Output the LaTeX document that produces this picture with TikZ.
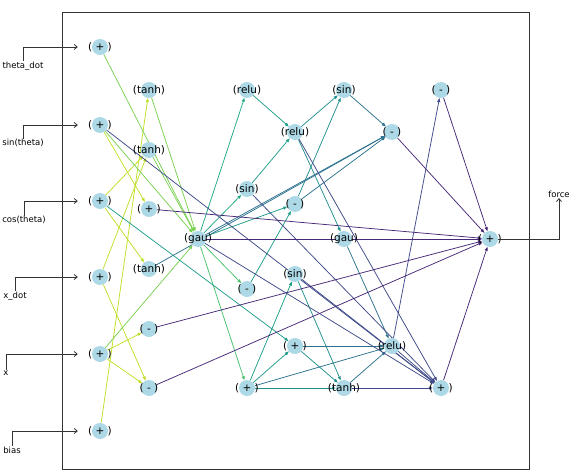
\documentclass[tikz,border=0pt]{standalone}
\usepackage{fontspec}
\setmainfont{DejaVu Sans}
\usetikzlibrary{arrows.meta,backgrounds}

\definecolor{opblue}{HTML}{ADD8E6}
\definecolor{toA}{HTML}{BDDF26}
\definecolor{toG}{HTML}{7AD151}
\definecolor{toB}{HTML}{22A884}
\definecolor{toBb}{HTML}{4AC16D}
\definecolor{toC}{HTML}{1F9E89}
\definecolor{toD}{HTML}{21908C}
\definecolor{toE}{HTML}{2C728E}
\definecolor{toF}{HTML}{3E4A89}
\definecolor{toO}{HTML}{482878}

\begin{document}
\begin{tikzpicture}[x=1pt,y=-1pt,
		op/.style={circle, fill=opblue, minimum size=16pt, inner sep=0pt,
			label={[font=\fontsize{10.5}{12}\selectfont, inner sep=0pt]center:#1}},
		edge/.style={line width=0.75pt, -{Triangle[length=4pt,width=3pt]}},
		feed/.style={line width=0.8pt, draw=black!80, -{Straight Barb[length=3pt,width=5pt]}},
		inlabel/.style={font=\fontsize{8.5}{10}\selectfont, inner sep=0.5pt}]
		\useasboundingbox (0,0) rectangle (575,476);

		% inputs
		\foreach \y/\lx/\ly/\txt [count=\k from 0] in {47/23/66/theta\_dot, 125/23/143/sin(theta), 201/24/220/cos(theta), 277/15/296/x\_dot, 354/6/373/x, 431/12/450/bias} {
			\node[op={( + )}] (i\k) at (100,\y) {};
			\node[inlabel] (l\k) at (\lx,\ly) {\txt};
			\draw[feed, shorten >=14pt] (l\k.north) |- (i\k.west);
		}

		\node[op={(tanh)}] (a1) at (149,90) {};
		\node[op={(tanh)}] (a2) at (149,150) {};
		\node[op={( + )}] (a3) at (149,209) {};
		\node[op={(tanh)}] (a4) at (149,269) {};
		\node[op={( - )}] (a5) at (149,329) {};
		\node[op={( - )}] (a6) at (149,388) {};

		\node[op={(relu)}] (b1) at (247,90) {};
		\node[op={(sin)}] (b2) at (247,189) {};
		\node[op={(gau)}] (g1) at (198,239) {};
		\node[op={( - )}] (b4) at (247,289) {};
		\node[op={( + )}] (b5) at (247,388) {};

		\node[op={(relu)}] (c1) at (295,132) {};
		\node[op={( - )}] (c2) at (295,204) {};
		\node[op={(sin)}] (c3) at (295,274) {};
		\node[op={( + )}] (c4) at (295,346) {};

		\node[op={(sin)}] (d1) at (344,90) {};
		\node[op={(gau)}] (d2) at (344,239) {};
		\node[op={(tanh)}] (d3) at (344,388) {};

		\node[op={( - )}] (e1) at (392,132) {};
		\node[op={(relu)}] (e2) at (392,346) {};
		\node[op={( - )}] (f1) at (441,90) {};
		\node[op={( + )}] (f2) at (441,388) {};

		% output
		\node[op={( + )}] (out) at (490,239) {};
		\node[inlabel] (force) at (559,194) {force};
		\draw[feed] (out.east) -| (force.south);

		\begin{pgfonlayer}{background}
			\draw[black!80, line width=0.8pt] (62,12) rectangle (529,469);

			\foreach \a/\b in {i5/a1, i2/a2, i3/a2, i1/a3, i2/a4, i4/a5, i4/a6, i3/a6}
				\draw[edge, toA] (\a) -- (\b);
			\foreach \a/\b in {i0/g1, i1/g1, a1/g1, a2/g1, i4/g1}
				\draw[edge, toG] (\a) -- (\b);
			\foreach \a/\b in {g1/b1, g1/b2}
				\draw[edge, toB] (\a) -- (\b);
			\foreach \a/\b in {g1/b4, g1/b5}
				\draw[edge, toBb] (\a) -- (\b);
			\foreach \a/\b in {b1/c1, b2/c1, g1/c2, b4/c2, b5/c3, i2/c4, b5/c4}
				\draw[edge, toC] (\a) -- (\b);
			\foreach \a/\b in {c1/d1, c2/d1, c1/d2, c3/d3, c4/d3, b5/d3}
				\draw[edge, toD] (\a) -- (\b);
			\foreach \a/\b in {g1/e1, a4/e1, c2/e1, d1/e1, c4/e2, b5/e2, d3/e2, d2/e2}
				\draw[edge, toE] (\a) -- (\b);
			\foreach \a/\b in {e2/f1, i1/f2, g1/f2, b2/f2, c1/f2, c3/f2, d3/f2, e2/f2}
				\draw[edge, toF] (\a) -- (\b);
			\foreach \a/\b in {a3/out, a5/out, a6/out, g1/out, d2/out, e1/out, f1/out, f2/out}
				\draw[edge, toO] (\a) -- (\b);
		\end{pgfonlayer}
	\end{tikzpicture}
\end{document}
